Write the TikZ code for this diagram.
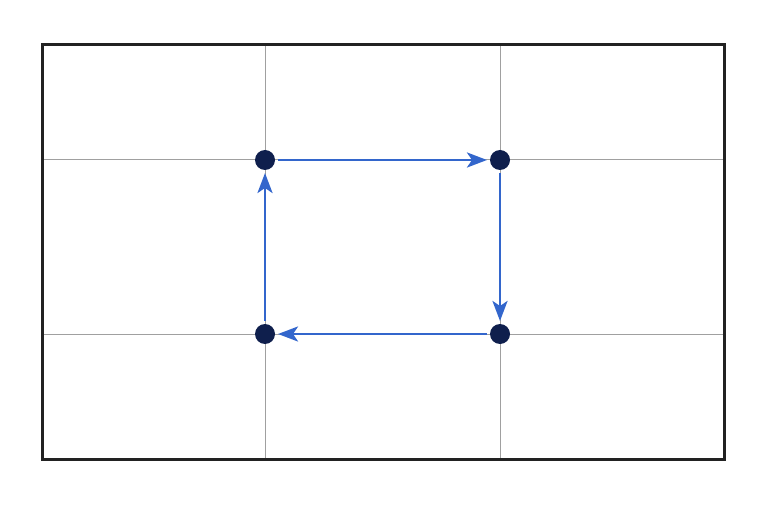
\documentclass[tikz,border=0pt]{standalone}
\usetikzlibrary{arrows.meta, positioning}

\definecolor{framegray}{HTML}{222222}
\definecolor{gridgray}{HTML}{A0A0A0}
\definecolor{pathblue}{HTML}{3366CC}
\definecolor{dotnavy}{HTML}{0F1F4D}

\begin{document}
\begin{tikzpicture}[
    x=1pt, y=1pt,
    frame/.style = {draw=framegray, line width=3pt},
    gridline/.style = {draw=gridgray, line width=1pt},
    dot/.style   = {circle, fill=dotnavy, inner sep=0pt, minimum size=20pt, outer sep=3pt},
    arrow/.style = {pathblue, line width=2.8pt, -{Stealth[length=20pt, width=15pt, inset=5pt]}}
]
\useasboundingbox (0,0) rectangle (768,512);

% =====================
% Frame and grid
% =====================

\coordinate (fl) at (42,53);
\coordinate (fr) at (724,467);

\draw[gridline] (265,53) -- (265,467);
\draw[gridline] (500,53) -- (500,467);
\draw[gridline] (42,352) -- (724,352);
\draw[gridline] (42,178) -- (724,178);

\draw[frame] (fl) rectangle (fr);

% =====================
% Corner points
% =====================

\node[dot] (tl) at (265,352) {};
\node[dot] (tr) at (500,352) {};
\node[dot] (br) at (500,178) {};
\node[dot] (bl) at (265,178) {};

% =====================
% Connections (clockwise)
% =====================

\draw[arrow] (tl) -- (tr);
\draw[arrow] (tr) -- (br);
\draw[arrow] (br) -- (bl);
\draw[arrow] (bl) -- (tl);

\end{tikzpicture}
\end{document}
